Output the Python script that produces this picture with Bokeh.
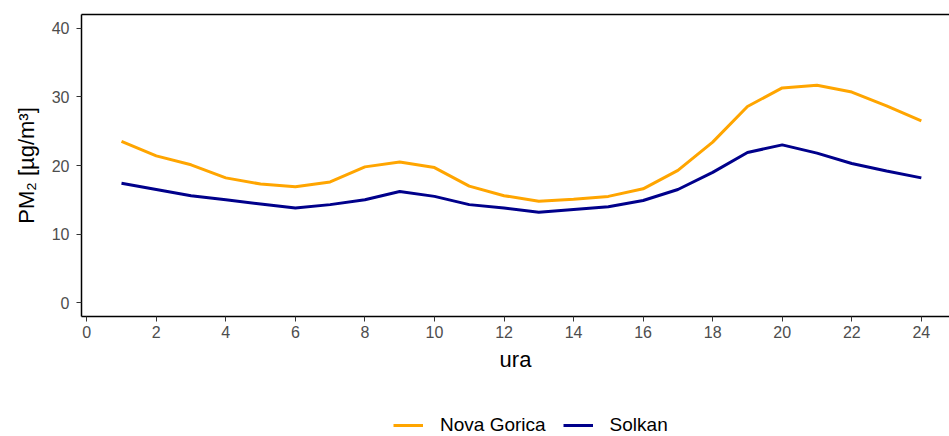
from bokeh.plotting import figure
from bokeh.layouts import column
from bokeh.models import (ColumnDataSource, Range1d, FixedTicker, LinearAxis,
                          Legend, LegendItem)
from bokeh.embed import file_html
from bokeh.resources import INLINE

# Hourly mean PM2 concentration at the two stations
hours = list(range(1, 25))
nova_gorica = [23.5, 21.4, 20.1, 18.2, 17.3, 16.9, 17.6, 19.8, 20.5, 19.7, 17.0, 15.6,
               14.8, 15.1, 15.5, 16.6, 19.3, 23.4, 28.6, 31.3, 31.7, 30.7, 28.7, 26.5]
solkan = [17.4, 16.5, 15.6, 15.0, 14.4, 13.8, 14.3, 15.0, 16.2, 15.5, 14.3, 13.8,
          13.2, 13.6, 14.0, 14.9, 16.5, 19.0, 21.9, 23.0, 21.8, 20.3, 19.2, 18.2]
x_ticks = list(range(0, 25, 2))
y_ticks = [0, 10, 20, 30, 40]

src = ColumnDataSource(dict(ura=hours, ng=nova_gorica, so=solkan))

FONT = "Liberation Sans"
NG_COLOR = "#FFA500"
SO_COLOR = "#00008B"

p = figure(width=949, height=390, output_backend="svg", toolbar_location=None,
           x_range=Range1d(-0.15, 24.81), y_range=Range1d(-2, 42),
           min_border_left=81, min_border_right=0, min_border_top=14,
           min_border_bottom=74, background_fill_color="white",
           border_fill_color="white")
p.outline_line_color = None
p.grid.visible = False

p.line("ura", "ng", source=src, line_color=NG_COLOR, line_width=3)
p.line("ura", "so", source=src, line_color=SO_COLOR, line_width=3)

for ax in (p.xaxis[0], p.yaxis[0]):
    ax.axis_line_color = "black"
    ax.axis_line_width = 1.5
    ax.major_tick_line_color = "#333333"
    ax.major_tick_out = 5
    ax.major_tick_in = 0
    ax.minor_tick_line_color = None
    ax.major_label_text_font = FONT
    ax.major_label_text_font_size = "16px"
    ax.major_label_text_color = "#4D4D4D"
    ax.axis_label_text_font = FONT
    ax.axis_label_text_font_size = "22px"
    ax.axis_label_text_font_style = "normal"
    ax.axis_label_text_color = "black"

p.xaxis.ticker = FixedTicker(ticks=x_ticks)
p.yaxis.ticker = FixedTicker(ticks=y_ticks)
p.xaxis.axis_label = "ura"
p.yaxis.axis_label = "PM\u2082 [\u00b5g/m\u00b3]"
p.xaxis.major_label_standoff = 4
p.xaxis.axis_label_standoff = 6
p.yaxis.major_label_standoff = 7
p.yaxis.axis_label_standoff = 10

# plain line across the top of the panel
top = LinearAxis(ticker=FixedTicker(ticks=[]), axis_line_color="black",
                 axis_line_width=1.5, major_tick_out=0, major_tick_in=0,
                 minor_tick_out=0, minor_tick_in=0, major_label_text_font_size="0px",
                 major_label_standoff=0)
p.add_layout(top, "above")

# legend strip underneath: same series, drawn outside its visible y range
leg = figure(width=949, height=46, output_backend="svg", toolbar_location=None,
             x_range=Range1d(-0.15, 24.81), y_range=Range1d(1000, 1001),
             x_axis_type=None, y_axis_type=None, min_border=0,
             background_fill_color="white", border_fill_color="white")
leg.outline_line_color = None
leg.grid.visible = False
l_ng = leg.line("ura", "ng", source=src, line_color=NG_COLOR, line_width=3)
l_so = leg.line("ura", "so", source=src, line_color=SO_COLOR, line_width=3)

legend = Legend(items=[LegendItem(label="Nova Gorica", renderers=[l_ng]),
                       LegendItem(label="Solkan", renderers=[l_so])],
                orientation="horizontal", location=(312, 0),
                padding=0, margin=0, spacing=17, glyph_width=30, glyph_height=18,
                label_height=18, label_standoff=17, border_line_color=None,
                background_fill_alpha=0, label_text_font=FONT,
                label_text_font_size="19px", label_text_color="black")
leg.add_layout(legend)

layout = column(p, leg, spacing=0)
open("out.html", "w").write(file_html(layout, INLINE))
